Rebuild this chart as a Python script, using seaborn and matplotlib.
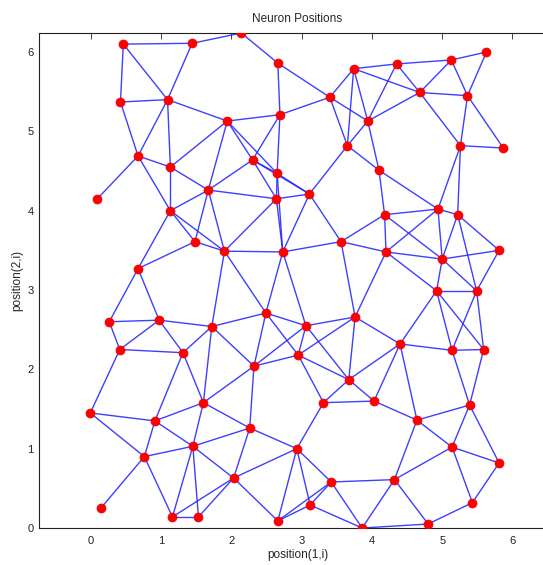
import numpy as np
import pandas as pd
import matplotlib
matplotlib.use("Agg")
import matplotlib.pyplot as plt
import seaborn as sns

# Neuron positions (position(1,i), position(2,i))
pos_x = [0.46, 1.44, 2.14, 2.66, 0.42, 1.09, 1.94, 2.69, 0.67, 1.13,
         2.30, 2.65, 1.67, 2.64, 0.09, 3.74, 4.35, 5.13, 5.63, 3.40,
         4.68, 5.36, 3.94, 3.65, 5.26, 5.87, 4.10, 3.11, 1.13, 1.48,
         1.90, 2.73, 0.67, 0.26, 0.97, 1.72, 2.49, 0.41, 1.31, 2.32,
         4.94, 5.22, 4.18, 3.56, 4.20, 5.00, 5.81, 4.92, 5.49, 3.76,
         3.06, 2.95, 4.40, 5.14, 5.59, 1.60, -0.01, 0.91, 2.26, 1.45,
         0.76, 2.03, 0.14, 1.16, 1.53, 2.66, 3.67, 3.31, 4.03, 4.64,
         5.39, 2.93, 5.14, 5.81, 3.42, 4.32, 3.12, 5.43, 3.86, 4.80]
pos_y = [6.10, 6.11, 6.24, 5.86, 5.37, 5.40, 5.13, 5.21, 4.69, 4.55,
         4.64, 4.47, 4.26, 4.15, 4.15, 5.79, 5.85, 5.90, 6.00, 5.43,
         5.49, 5.45, 5.13, 4.82, 4.82, 4.79, 4.51, 4.21, 4.00, 3.61,
         3.49, 3.48, 3.27, 2.60, 2.62, 2.54, 2.71, 2.25, 2.21, 2.04,
         4.02, 3.95, 3.95, 3.61, 3.48, 3.39, 3.50, 2.99, 2.99, 2.66,
         2.55, 2.18, 2.32, 2.24, 2.25, 1.58, 1.45, 1.35, 1.26, 1.03,
         0.90, 0.63, 0.25, 0.14, 0.14, 0.09, 1.87, 1.58, 1.60, 1.36,
         1.55, 1.00, 1.02, 0.82, 0.58, 0.61, 0.29, 0.32, 0.00, 0.05]

title_text = "Neuron Positions"
x_label = "position(1,i)"
y_label = "position(2,i)"
x_ticks = [0, 1, 2, 3, 4, 5, 6]
y_ticks = [0, 1, 2, 3, 4, 5, 6]

nodes = pd.DataFrame({"x": pos_x, "y": pos_y})

# plotsom links neurons within a Euclidean distance of 1
px = np.array(pos_x)
py = np.array(pos_y)
rows = []
eid = 0
for i in range(len(px)):
    for j in range(i + 1, len(px)):
        if np.hypot(px[i] - px[j], py[i] - py[j]) <= 1.0:
            rows.append({"edge": eid, "x": px[i], "y": py[i]})
            rows.append({"edge": eid, "x": px[j], "y": py[j]})
            eid += 1
edges = pd.DataFrame(rows)

sns.set_style("white")
plt.rcParams["font.family"] = ["Liberation Sans", "DejaVu Sans"]

fig = plt.figure(figsize=(5.43, 5.65), dpi=100)
# the axes box runs past the right edge of the picture, as in the reference
ax = fig.add_axes([39 / 543, 37 / 565, 517 / 543, 495 / 565])

sns.lineplot(data=edges, x="x", y="y", units="edge", estimator=None,
             sort=False, color="#2a2aff", linewidth=1.0, alpha=0.9, ax=ax,
             legend=False, zorder=1)
sns.scatterplot(data=nodes, x="x", y="y", color="#ff0000", s=42,
                edgecolor="#ee0000", linewidth=0.5, ax=ax, zorder=3,
                legend=False)

ax.set_xlim(-0.74, 6.62)
ax.set_ylim(0, 6.24)
ax.set_xticks(x_ticks)
ax.set_yticks(y_ticks)
ax.tick_params(direction="in", top=True, right=True, length=4,
               width=0.6, labelsize=8, colors="#222222", pad=6)
ax.tick_params(axis="y", pad=4)
for s in ax.spines.values():
    s.set_visible(True)
    s.set_color("#222222")
    s.set_linewidth(0.8)
ax.set_title(title_text, fontsize=8.5, pad=8)
ax.set_xlabel(x_label, fontsize=8.5, labelpad=2)
ax.set_ylabel(y_label, fontsize=8.5, labelpad=3)
ax.set_facecolor("white")

fig.savefig("out.png", dpi=100, facecolor="white")
